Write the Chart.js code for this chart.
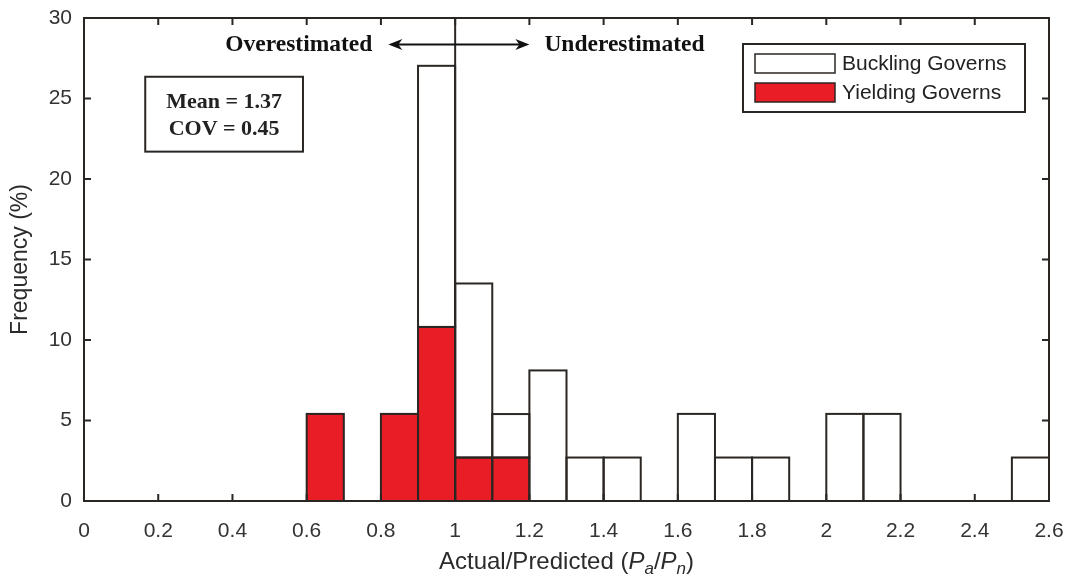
<!DOCTYPE html>
<html>
<head>
<meta charset="utf-8">
<script src="https://cdn.jsdelivr.net/npm/chart.js@4/dist/chart.umd.min.js"></script>
<style>
  html, body { margin: 0; padding: 0; background: #fff; }
  #wrap { width: 1072px; height: 584px; }
</style>
</head>
<body>
<div id="wrap"><canvas id="hist"></canvas></div>
<script>
// Histogram bins of Pa/Pn (width 0.1), frequency in % of all specimens
const binCenters   = [0.65, 0.85, 0.95, 1.05, 1.15, 1.25, 1.35, 1.45, 1.65, 1.75, 1.85, 2.05, 2.15, 2.55];
const yieldingFreq = [5.41, 5.41, 10.81, 2.70, 2.70, null, null, null, null, null, null, null, null, null];
const bucklingFreq = [null, null, 16.22, 10.81, 2.70, 8.11, 2.70, 2.70, 5.41, 2.70, 2.70, 5.41, 5.41, 2.70];

const xTicks = { min: 0, max: 2.6, step: 0.2 };
const yTicks = { min: 0, max: 30, step: 5 };

const seriesNames = ['Buckling Governs', 'Yielding Governs'];
const statsLines = ['Mean = 1.37', 'COV = 0.45'];

const SANS = "'Liberation Sans', Arial, Helvetica, sans-serif";
const SERIF = "'Liberation Serif', 'Times New Roman', serif";
const INK = '#2a2623';
const RED = '#e81d25';

// outlines, frame, inward ticks and annotations
const decorations = {
  id: 'decorations',
  afterDatasetsDraw(chart) {
    const { ctx, chartArea: a, scales: { x, y } } = chart;
    ctx.save();

    // bar outlines, centred on the bar edges
    ctx.lineWidth = 2;
    chart.data.datasets.forEach((ds, i) => {
      const meta = chart.getDatasetMeta(i);
      ctx.strokeStyle = INK;
      meta.data.forEach((bar, j) => {
        if (ds.data[j] == null) return;
        const p = bar.getProps(['x', 'y', 'base', 'width'], true);
        ctx.strokeRect(p.x - p.width / 2, p.y, p.width, p.base - p.y);
      });
    });

    // divider at Pa/Pn = 1
    const x1 = x.getPixelForValue(1);
    ctx.beginPath();
    ctx.moveTo(x1, a.top);
    ctx.lineTo(x1, a.bottom);
    ctx.stroke();

    // axis box
    ctx.strokeStyle = INK;
    ctx.lineWidth = 2;
    ctx.strokeRect(a.left, a.top, a.right - a.left, a.bottom - a.top);

    // inward ticks on all four sides
    const tl = 7;
    ctx.beginPath();
    x.ticks.forEach((t, i) => {
      const px = x.getPixelForTick(i);
      ctx.moveTo(px, a.bottom); ctx.lineTo(px, a.bottom - tl);
      ctx.moveTo(px, a.top); ctx.lineTo(px, a.top + tl);
    });
    y.ticks.forEach((t, i) => {
      const py = y.getPixelForTick(i);
      ctx.moveTo(a.left, py); ctx.lineTo(a.left + tl, py);
      ctx.moveTo(a.right, py); ctx.lineTo(a.right - tl, py);
    });
    ctx.stroke();

    // over / under estimated arrows
    const ay = y.getPixelForValue(28.35);
    const xl = x.getPixelForValue(0.82), xr = x.getPixelForValue(1.2);
    ctx.strokeStyle = '#111';
    ctx.fillStyle = '#111';
    ctx.lineWidth = 2;
    ctx.beginPath();
    ctx.moveTo(xl + 8, ay); ctx.lineTo(xr - 8, ay);
    ctx.stroke();
    [[xl, 1], [xr, -1]].forEach(([tip, dir]) => {
      ctx.beginPath();
      ctx.moveTo(tip, ay);
      ctx.lineTo(tip + dir * 14, ay - 5.5);
      ctx.lineTo(tip + dir * 10, ay);
      ctx.lineTo(tip + dir * 14, ay + 5.5);
      ctx.closePath();
      ctx.fill();
    });
    ctx.font = `bold 23.5px ${SERIF}`;
    ctx.textBaseline = 'middle';
    ctx.textAlign = 'right';
    ctx.fillText('Overestimated', xl - 16, ay);
    ctx.textAlign = 'left';
    ctx.fillText('Underestimated', xr + 15, ay);

    // statistics box
    const bl = x.getPixelForValue(0.165), br = x.getPixelForValue(0.59);
    const bt = y.getPixelForValue(26.35), bb = y.getPixelForValue(21.7);
    ctx.fillStyle = '#fff';
    ctx.fillRect(bl, bt, br - bl, bb - bt);
    ctx.strokeStyle = INK;
    ctx.lineWidth = 2;
    ctx.strokeRect(bl, bt, br - bl, bb - bt);
    ctx.fillStyle = '#222';
    ctx.font = `bold 22px ${SERIF}`;
    ctx.textAlign = 'center';
    const bc = (bl + br) / 2, bm = (bt + bb) / 2;
    ctx.fillText(statsLines[0], bc, bm - 12);
    ctx.fillText(statsLines[1], bc, bm + 15);

    // legend box
    const lw = 282, lh = 68;
    const lx = a.right - 24 - lw, ly = a.top + 26;
    ctx.fillStyle = '#fff';
    ctx.fillRect(lx, ly, lw, lh);
    ctx.strokeRect(lx, ly, lw, lh);
    const fills = ['#ffffff', RED];
    ctx.font = `21px ${SANS}`;
    ctx.textAlign = 'left';
    seriesNames.forEach((name, i) => {
      const sy = ly + 10 + i * 29;
      ctx.fillStyle = fills[i];
      ctx.fillRect(lx + 12, sy, 80, 19);
      ctx.strokeStyle = INK;
      ctx.lineWidth = 1.5;
      ctx.strokeRect(lx + 12, sy, 80, 19);
      ctx.fillStyle = '#222';
      ctx.fillText(name, lx + 99, sy + 10);
    });

    // x axis title with italic subscripts
    const parts = [
      { t: 'Actual/Predicted (', f: `24px ${SANS}`, dy: 0 },
      { t: 'P', f: `italic 24px ${SANS}`, dy: 0 },
      { t: 'a', f: `italic 17px ${SANS}`, dy: 5 },
      { t: '/', f: `24px ${SANS}`, dy: 0 },
      { t: 'P', f: `italic 24px ${SANS}`, dy: 0 },
      { t: 'n', f: `italic 17px ${SANS}`, dy: 5 },
      { t: ')', f: `24px ${SANS}`, dy: 0 }
    ];
    let total = 0;
    parts.forEach(p => { ctx.font = p.f; p.w = ctx.measureText(p.t).width; total += p.w; });
    let cx = (a.left + a.right) / 2 - total / 2;
    const base = a.bottom + 68;
    ctx.fillStyle = '#2b2b2b';
    ctx.textBaseline = 'alphabetic';
    parts.forEach(p => {
      ctx.font = p.f;
      ctx.fillText(p.t, cx, base + p.dy);
      cx += p.w;
    });

    ctx.restore();
  }
};

const ctx = document.getElementById('hist').getContext('2d');
new Chart(ctx, {
  type: 'bar',
  data: {
    labels: binCenters,
    datasets: [
      { label: seriesNames[1], data: yieldingFreq, backgroundColor: RED, borderColor: INK, borderWidth: 0 },
      { label: seriesNames[0], data: bucklingFreq, backgroundColor: '#ffffff', borderColor: INK, borderWidth: 0 }
    ]
  },
  options: {
    responsive: true,
    maintainAspectRatio: false,
    animation: false,
    layout: { padding: { top: 18, right: 23, left: 0, bottom: 0 } },
    datasets: { bar: { barPercentage: 1, categoryPercentage: 1 } },
    plugins: { legend: { display: false }, tooltip: { enabled: false } },
    scales: {
      x: {
        type: 'linear',
        stacked: true,
        offset: false,
        min: xTicks.min,
        max: xTicks.max,
        grid: { display: false, offset: false },
        border: { display: false },
        ticks: {
          stepSize: xTicks.step,
          padding: 10,
          color: '#333',
          font: { family: SANS, size: 21 },
          maxRotation: 0,
          autoSkip: false,
          callback: v => String(+v.toFixed(1))
        },
        afterFit: s => { s.height = 83; s.paddingLeft = 0; s.paddingRight = 0; }
      },
      y: {
        stacked: true,
        min: yTicks.min,
        max: yTicks.max,
        grid: { display: false },
        border: { display: false },
        ticks: {
          stepSize: yTicks.step,
          padding: 4,
          color: '#333',
          font: { family: SANS, size: 21 }
        },
        title: {
          display: true,
          text: 'Frequency (%)',
          color: '#2b2b2b',
          font: { family: SANS, size: 23 },
          padding: { top: 7, bottom: 0 }
        },
        afterFit: s => { s.width = 84; s.paddingTop = 0; s.paddingBottom = 0; }
      }
    }
  },
  plugins: [decorations]
});
</script>
</body>
</html>
